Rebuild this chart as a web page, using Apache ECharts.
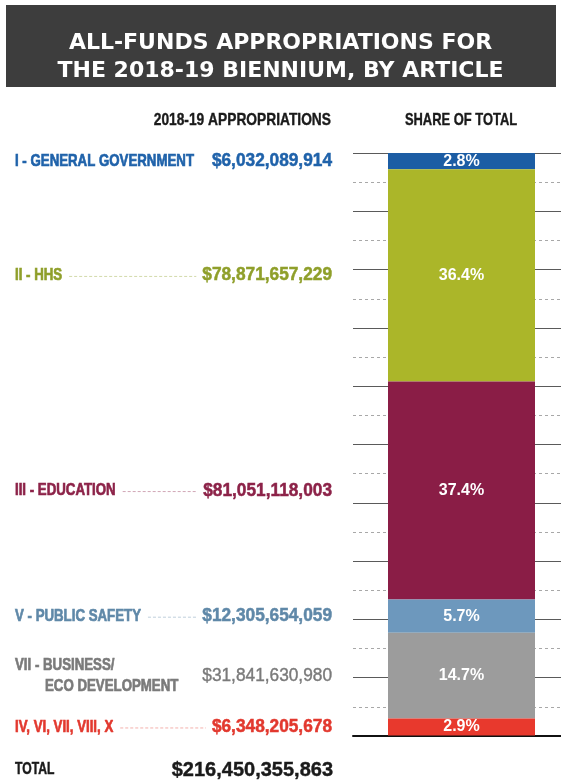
<!DOCTYPE html>
<html>
<head>
<meta charset="utf-8">
<title>All-funds appropriations for the 2018-19 biennium</title>
<script src="https://cdn.jsdelivr.net/npm/echarts@6/dist/echarts.min.js"></script>
<style>
  html, body { margin: 0; padding: 0; background: #fff; }
  #chart { width: 561px; height: 783px; }
</style>
</head>
<body>
<div id="chart"></div>
<script>
// Articles of the appropriations bill, top to bottom
const categories = [
  'I - GENERAL GOVERNMENT',
  'II - HHS',
  'III - EDUCATION',
  'V - PUBLIC SAFETY',
  'VII - BUSINESS/\nECO DEVELOPMENT',
  'IV, VI, VII, VIII, X'
];
// All-funds appropriations, dollars
const appropriations = [6032089914, 78871657229, 81051118003, 12305654059, 31841630980, 6348205678];
// Share of the total, percent
const shares = [2.8, 36.4, 37.4, 5.7, 14.7, 2.9];
const totalAppropriations = 216450355863;

const barColors  = ['#1c5da4', '#abb629', '#8a1d46', '#6d98bd', '#9c9c9c', '#e8392d'];
const textColors = ['#1f62aa', '#8f9f2a', '#8c2248', '#5f88a8', '#7a7a7a', '#e2382e'];
const valueWeights = ['bold', 'bold', 'bold', 'bold', 'normal', 'bold'];

const FAMILY = '"Liberation Sans", Arial, sans-serif';
const NAME_FONT = 'bold 17px ' + FAMILY;
const NAME_SCALE = 0.78;
const VALUE_SCALE = 0.96;
const NAME_X = 15;
const VALUE_RIGHT = 332;
const LINE_GAP = 21;
const INDENT = 30;

const measureCtx = document.createElement('canvas').getContext('2d');
function textWidth(str, font) {
  measureCtx.font = font;
  return measureCtx.measureText(str).width;
}
function dollars(v) {
  return '$' + v.toLocaleString('en-US');
}
function valueFont(i) {
  return valueWeights[i] + ' 18px ' + FAMILY;
}

// Label anchor for each article: the middle of its stacked segment
let running = 0;
const labelData = shares.map((s, i) => {
  const mid = running + s / 2;
  running += s;
  return [0, mid, i];
});

function renderLabels(params, api) {
  const i = api.value(2);
  const y = api.coord([api.value(0), api.value(1)])[1];
  const color = textColors[i];
  const lines = categories[i].split('\n');
  const children = [];
  lines.forEach((ln, k) => {
    children.push({
      type: 'text',
      x: NAME_X + (k > 0 ? INDENT : 0),
      y: y + (k - (lines.length - 1) / 2) * LINE_GAP,
      scaleX: NAME_SCALE,
      style: {
        text: ln, fill: color, font: NAME_FONT, align: 'left', verticalAlign: 'middle',
        stroke: color, lineWidth: 0.7
      }
    });
  });
  const valueStr = dollars(appropriations[i]);
  const vFont = valueFont(i);
  const bold = valueWeights[i] === 'bold';
  children.push({
    type: 'text',
    x: VALUE_RIGHT,
    y: y,
    scaleX: VALUE_SCALE,
    style: {
      text: valueStr, fill: color, font: vFont, align: 'right', verticalAlign: 'middle',
      stroke: color, lineWidth: bold ? 0.5 : 0.4
    }
  });
  if (lines.length === 1) {
    const nameEnd = NAME_X + textWidth(lines[0], NAME_FONT) * NAME_SCALE;
    const valueStart = VALUE_RIGHT - textWidth(valueStr, vFont) * VALUE_SCALE;
    if (valueStart - nameEnd > 40) {
      children.push({
        type: 'line',
        shape: { x1: nameEnd + 7, y1: y + 1, x2: valueStart - 6, y2: y + 1 },
        style: { stroke: color, opacity: 0.4, lineWidth: 1, lineDash: [3, 2] }
      });
    }
  }
  return { type: 'group', children: children };
}

const barSeries = categories.map((name, i) => ({
  name: name,
  type: 'bar',
  stack: 'share',
  barWidth: 147,
  data: [shares[i]],
  itemStyle: { color: barColors[i] },
  label: {
    show: true,
    position: 'inside',
    formatter: shares[i].toFixed(1) + '%',
    color: '#ffffff',
    fontSize: 16,
    fontWeight: 'bold',
    fontFamily: FAMILY
  },
  silent: true
}));

const chart = echarts.init(document.getElementById('chart'), null, { renderer: 'canvas' });
chart.setOption({
  animation: false,
  backgroundColor: '#ffffff',
  title: {
    text: 'ALL-FUNDS APPROPRIATIONS FOR\nTHE 2018-19 BIENNIUM, BY ARTICLE',
    left: 'center',
    top: 24,
    textStyle: {
      color: '#ffffff',
      fontSize: 22,
      fontWeight: 'bold',
      fontFamily: '"DejaVu Sans", sans-serif',
      lineHeight: 28
    }
  },
  graphic: [
    {
      type: 'rect',
      z: -10,
      shape: { x: 6, y: 5, width: 550, height: 82 },
      style: { fill: '#3d3d3d' }
    },
    {
      type: 'text',
      x: 331, y: 120,
      scaleX: 0.81,
      style: { text: '2018-19 APPROPRIATIONS', fill: '#1a1a1a', font: 'bold 17px ' + FAMILY, align: 'right', verticalAlign: 'middle', stroke: '#1a1a1a', lineWidth: 0.4 }
    },
    {
      type: 'text',
      x: 461, y: 120,
      scaleX: 0.76,
      style: { text: 'SHARE OF TOTAL', fill: '#1a1a1a', font: 'bold 17px ' + FAMILY, align: 'center', verticalAlign: 'middle', stroke: '#1a1a1a', lineWidth: 0.4 }
    },
    {
      type: 'text',
      x: NAME_X, y: 770,
      scaleX: 0.76,
      style: { text: 'TOTAL', fill: '#1a1a1a', font: 'bold 16px ' + FAMILY, align: 'left', verticalAlign: 'middle', stroke: '#1a1a1a', lineWidth: 0.5 }
    },
    {
      type: 'text',
      x: VALUE_RIGHT + 1, y: 770,
      style: { text: dollars(totalAppropriations), fill: '#1a1a1a', font: 'bold 20px ' + FAMILY, align: 'right', verticalAlign: 'middle', stroke: '#1a1a1a', lineWidth: 0.4 }
    }
  ],
  grid: { left: 353, width: 217, top: 153, bottom: 47, outerBoundsMode: 'none' },
  xAxis: {
    type: 'category',
    data: ['share'],
    position: 'bottom',
    axisLine: { show: true, onZero: false, lineStyle: { color: '#111', width: 2 } },
    axisTick: { show: false },
    axisLabel: { show: false },
    splitLine: { show: false }
  },
  yAxis: {
    type: 'value',
    inverse: true,
    min: 0,
    max: 100,
    interval: 10,
    axisLine: { show: false },
    axisTick: { show: false },
    axisLabel: { show: false },
    splitLine: { show: true, lineStyle: { color: '#5a5a5a', width: 1 } },
    minorTick: { show: false, splitNumber: 2 },
    minorSplitLine: { show: true, lineStyle: { color: '#a8a8a8', width: 1, type: [3, 3] } }
  },
  series: barSeries.concat([{
    type: 'custom',
    renderItem: renderLabels,
    data: labelData,
    encode: { x: 0, y: 1 },
    clip: false,
    silent: true,
    z: 10
  }])
});
</script>
</body>
</html>
